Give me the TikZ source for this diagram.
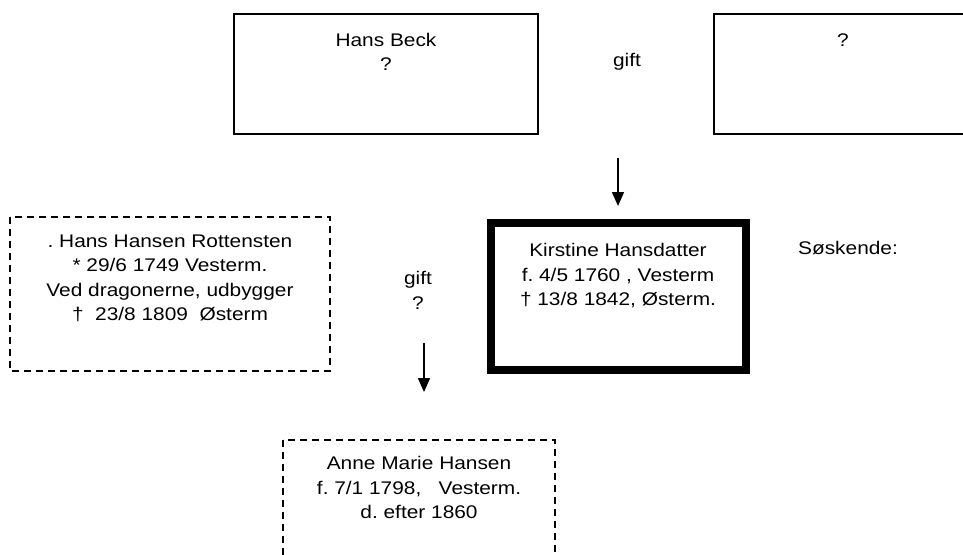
\documentclass[tikz,border=0pt]{standalone}
\usepackage{fontspec}
\setmainfont{Liberation Sans}[FakeStretch=1.14]
\usetikzlibrary{arrows.meta}
\frenchspacing

\tikzset{
  person/.style={draw, line width=1.5pt},
  guess/.style={draw, line width=1.5pt, dash pattern=on 7pt off 5pt},
  main/.style={draw, line width=7.5pt},
  txt/.style={anchor=base, align=center, inner sep=0pt, font=\fontsize{18.3}{24.5}\selectfont},
  descend/.style={line width=1.5pt, -{Triangle[length=14pt,width=12pt]}}
}

\begin{document}
\begin{tikzpicture}[x=1pt,y=-1pt]
            \useasboundingbox (0,0) rectangle (963,554);

            % parents (base = last line)
            \draw[person] (234,14) rectangle (538,134);
            \draw[person] (714,14) rectangle (1010,134);
            \node[txt] (beck) at (386,70.5) {Hans Beck\\?};
            \node[txt] (mother) at (843,46) {?};
            \node[txt] (gift1) at (627,66) {gift};

            \coordinate (a1) at (618,158);
            \coordinate (b1) at (618,206);
            \draw[descend] (a1) -- (b1);

            % Kirstine and spouse
            \draw[guess] (10,217) rectangle (330,371);
            \node[txt] (hans) at (170,320.5) {. Hans Hansen Rottensten\\* 29/6 1749 Vesterm.\\Ved dragonerne, udbygger\\†\ \ 23/8 1809\ \ Østerm};

            \draw[main] (491,223) rectangle (746,370);
            \node[txt] (kirstine) at (618,305.5) {Kirstine Hansdatter\\f. 4/5 1760 , Vesterm\\† 13/8 1842, Østerm.};

            \node[txt] (sosk) at (848,254) {Søskende:};
            \node[txt] (gift2) at (418,309) {gift\\?};

            \coordinate (a2) at (424,343);
            \coordinate (b2) at (424,392);
            \draw[descend] (a2) -- (b2);

            % child
            \draw[guess] (283,440) rectangle (555,600);
            \node[txt] (anne) at (419,518.5) {Anne Marie Hansen\\f. 7/1 1798,\ \ \ Vesterm.\\d. efter 1860};
        \end{tikzpicture}
\end{document}
